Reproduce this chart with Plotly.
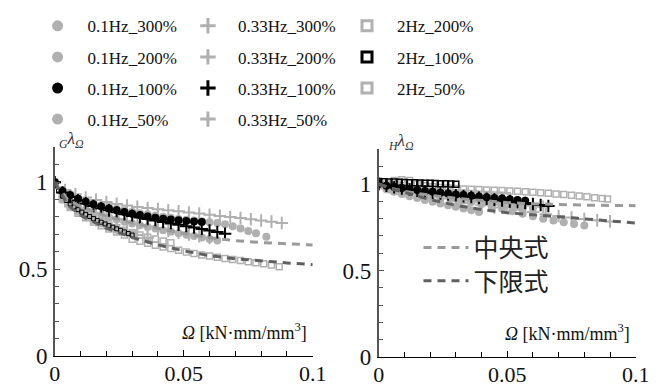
import plotly.graph_objects as go

# ---------------- data ----------------
# Left panel: G lambda_Omega
G_x_01_300 = [0, 0.003, 0.006, 0.009, 0.012, 0.015, 0.018, 0.021, 0.024, 0.027, 0.030, 0.033, 0.036, 0.039,
              0.042, 0.045, 0.048, 0.051, 0.054, 0.057, 0.060, 0.063, 0.066, 0.069, 0.072, 0.075, 0.078, 0.082]
G_y_01_300 = [1.00, 0.955, 0.93, 0.91, 0.894, 0.88, 0.868, 0.857, 0.847, 0.838, 0.83, 0.822, 0.815, 0.808,
              0.801, 0.795, 0.789, 0.784, 0.779, 0.775, 0.77, 0.765, 0.758, 0.747, 0.733, 0.72, 0.706, 0.686]
G_x_01_200 = [0, 0.003, 0.006, 0.009, 0.012, 0.015, 0.018, 0.021, 0.024, 0.027, 0.030, 0.033, 0.036, 0.039,
              0.042, 0.045, 0.048, 0.051, 0.054, 0.057, 0.060, 0.063]
G_y_01_200 = [1.0, 0.92, 0.885, 0.862, 0.843, 0.826, 0.811, 0.797, 0.785, 0.773, 0.762, 0.752, 0.742, 0.733,
              0.724, 0.715, 0.706, 0.698, 0.69, 0.682, 0.674, 0.665]
G_x_01_100 = [0, 0.003, 0.006, 0.009, 0.012, 0.015, 0.018, 0.021, 0.024, 0.027, 0.030, 0.033, 0.036, 0.039,
              0.042, 0.045, 0.048, 0.051, 0.054, 0.057]
G_y_01_100 = [1.0, 0.95, 0.925, 0.905, 0.888, 0.873, 0.86, 0.848, 0.838, 0.828, 0.819, 0.811, 0.803, 0.796,
              0.79, 0.785, 0.781, 0.777, 0.774, 0.771]
G_x_01_50 = [0, 0.003, 0.006, 0.009, 0.012, 0.015, 0.018, 0.021, 0.024, 0.027, 0.030]
G_y_01_50 = [1.0, 0.9, 0.86, 0.83, 0.805, 0.782, 0.762, 0.745, 0.728, 0.713, 0.70]

G_x_033_300 = [0.000, 0.004, 0.008, 0.012, 0.016, 0.020, 0.024, 0.028, 0.032, 0.036, 0.040, 0.044, 0.048,
               0.052, 0.056, 0.060, 0.064, 0.068, 0.072, 0.076, 0.080, 0.084, 0.088]
G_y_033_300 = [1.00, 0.955, 0.93, 0.912, 0.898, 0.886, 0.875, 0.866, 0.858, 0.851, 0.845, 0.839, 0.833,
               0.826, 0.82, 0.813, 0.806, 0.8, 0.794, 0.787, 0.78, 0.773, 0.765]
G_x_033_200 = [0, 0.004, 0.008, 0.012, 0.016, 0.020, 0.024, 0.028, 0.032, 0.036, 0.040, 0.044, 0.048, 0.052,
               0.056, 0.060]
G_y_033_200 = [1.0, 0.905, 0.87, 0.845, 0.822, 0.803, 0.787, 0.772, 0.758, 0.745, 0.733, 0.721, 0.71, 0.699,
               0.689, 0.679]
G_x_033_100 = [0, 0.003, 0.006, 0.009, 0.012, 0.015, 0.018, 0.021, 0.024, 0.027, 0.030, 0.033, 0.036, 0.039,
               0.042, 0.045, 0.048, 0.051, 0.054, 0.057, 0.060, 0.063, 0.066]
G_y_033_100 = [1.0, 0.94, 0.915, 0.895, 0.878, 0.863, 0.85, 0.838, 0.827, 0.816, 0.806, 0.797, 0.788, 0.779,
               0.771, 0.763, 0.755, 0.747, 0.739, 0.731, 0.722, 0.713, 0.703]
G_x_033_50 = [0, 0.004, 0.008, 0.012, 0.016, 0.020, 0.024, 0.028, 0.032, 0.036]
G_y_033_50 = [1.0, 0.89, 0.845, 0.81, 0.782, 0.757, 0.735, 0.715, 0.697, 0.68]

G_x_2_200 = [0, 0.003, 0.006, 0.009, 0.012, 0.015, 0.018, 0.021, 0.024, 0.027, 0.030, 0.033, 0.036, 0.039,
             0.042, 0.045, 0.048, 0.051, 0.054, 0.057, 0.060, 0.063, 0.066, 0.069, 0.072, 0.075, 0.078, 0.081,
             0.084, 0.087]
G_y_2_200 = [1.0, 0.9, 0.855, 0.822, 0.795, 0.771, 0.75, 0.731, 0.713, 0.697, 0.672, 0.66, 0.649, 0.638,
             0.628, 0.618, 0.608, 0.599, 0.59, 0.582, 0.575, 0.568, 0.561, 0.555, 0.549, 0.543, 0.537, 0.531,
             0.524, 0.514]
G_x_2_100 = [0, 0.0015, 0.003, 0.0045, 0.006, 0.0075, 0.009, 0.0105, 0.012, 0.0135, 0.015, 0.0165, 0.018,
             0.0195, 0.021, 0.0225, 0.024, 0.0255, 0.027, 0.0285, 0.030]
G_y_2_100 = [1.0, 0.95, 0.92, 0.895, 0.875, 0.858, 0.842, 0.828, 0.815, 0.803, 0.791, 0.78, 0.77, 0.76, 0.75,
             0.741, 0.732, 0.723, 0.714, 0.705, 0.696]
G_x_2_50 = [0, 0.003, 0.006, 0.009, 0.012, 0.015, 0.018, 0.021, 0.024, 0.027, 0.030, 0.033, 0.036, 0.039,
            0.042, 0.045]
G_y_2_50 = [1.0, 0.92, 0.875, 0.842, 0.815, 0.792, 0.772, 0.754, 0.738, 0.723, 0.709, 0.696, 0.684, 0.673,
            0.662, 0.652]

G_x_fit = [0, 0.005, 0.01, 0.02, 0.03, 0.04, 0.05, 0.06, 0.07, 0.08, 0.09, 0.1]
G_y_mid = [1.0, 0.9, 0.86, 0.805, 0.765, 0.733, 0.705, 0.68, 0.664, 0.653, 0.645, 0.639]
G_y_low = [1.0, 0.87, 0.81, 0.735, 0.682, 0.64, 0.605, 0.578, 0.56, 0.547, 0.536, 0.526]

# Right panel: H lambda_Omega
H_x_01_300 = [0, 0.004, 0.008, 0.012, 0.016, 0.020, 0.024, 0.028, 0.032, 0.036, 0.040, 0.044, 0.048, 0.052,
              0.056, 0.060, 0.064, 0.068, 0.072, 0.076, 0.080]
H_y_01_300 = [1.0, 0.978, 0.963, 0.952, 0.943, 0.935, 0.927, 0.918, 0.908, 0.897, 0.885, 0.872, 0.858, 0.843,
              0.828, 0.814, 0.8, 0.789, 0.779, 0.769, 0.76]
H_x_01_200 = [0, 0.004, 0.008, 0.012, 0.016, 0.020, 0.024, 0.028, 0.032, 0.036, 0.040, 0.044, 0.048, 0.052,
              0.056, 0.060]
H_y_01_200 = [1.0, 0.975, 0.96, 0.948, 0.938, 0.929, 0.92, 0.912, 0.904, 0.897, 0.89, 0.883, 0.877, 0.871,
              0.865, 0.86]
H_x_01_100 = [0, 0.003, 0.006, 0.009, 0.012, 0.015, 0.018, 0.021, 0.024, 0.027, 0.030, 0.033, 0.036, 0.039,
              0.042, 0.045, 0.048, 0.051, 0.054, 0.057]
H_y_01_100 = [1.0, 0.99, 0.983, 0.977, 0.971, 0.965, 0.96, 0.955, 0.95, 0.945, 0.94, 0.936, 0.932, 0.928,
              0.924, 0.92, 0.916, 0.912, 0.908, 0.904]
H_x_01_50 = [0, 0.003, 0.006, 0.009, 0.012, 0.015, 0.018, 0.021, 0.024, 0.027, 0.030, 0.033, 0.036, 0.039]
H_y_01_50 = [0.99, 0.97, 0.955, 0.942, 0.93, 0.919, 0.908, 0.898, 0.888, 0.878, 0.868, 0.858, 0.848, 0.838]

H_x_033_300 = [0, 0.005, 0.01, 0.015, 0.02, 0.025, 0.03, 0.035, 0.04, 0.045, 0.05, 0.055, 0.06, 0.065, 0.07,
               0.075, 0.08, 0.085, 0.09]
H_y_033_300 = [1.0, 0.98, 0.965, 0.952, 0.94, 0.928, 0.917, 0.905, 0.893, 0.88, 0.866, 0.852, 0.838, 0.825,
               0.815, 0.806, 0.798, 0.791, 0.784]
H_x_033_200 = [0, 0.004, 0.008, 0.012, 0.016, 0.020, 0.024, 0.028, 0.032, 0.036, 0.040, 0.044, 0.048, 0.052,
               0.056, 0.060, 0.064]
H_y_033_200 = [1.0, 0.982, 0.97, 0.96, 0.951, 0.943, 0.935, 0.927, 0.92, 0.913, 0.906, 0.899, 0.892, 0.886,
               0.88, 0.874, 0.868]
H_x_033_100 = [0, 0.003, 0.006, 0.009, 0.012, 0.015, 0.018, 0.021, 0.024, 0.027, 0.030, 0.033, 0.036, 0.039,
               0.042, 0.045, 0.048, 0.051, 0.054, 0.057, 0.060, 0.063, 0.066]
H_y_033_100 = [1.0, 0.99, 0.982, 0.975, 0.968, 0.962, 0.956, 0.95, 0.945, 0.94, 0.935, 0.93, 0.925, 0.92,
               0.915, 0.91, 0.905, 0.9, 0.895, 0.89, 0.885, 0.879, 0.873]
H_x_033_50 = [0, 0.005, 0.01, 0.015, 0.02, 0.025, 0.03, 0.035, 0.04, 0.045]
H_y_033_50 = [1.0, 0.975, 0.958, 0.944, 0.93, 0.917, 0.904, 0.891, 0.878, 0.865]

H_x_2_200 = [0, 0.003, 0.006, 0.009, 0.012, 0.015, 0.018, 0.021, 0.024, 0.027, 0.030, 0.033, 0.036, 0.039,
             0.042, 0.045, 0.048, 0.051, 0.054, 0.057, 0.060, 0.063, 0.066, 0.069, 0.072, 0.075, 0.078, 0.081,
             0.084, 0.087, 0.089]
H_y_2_200 = [1.0, 1.0, 1.02, 1.025, 1.02, 1.0, 0.99, 0.984, 0.98, 0.977, 0.974, 0.972, 0.97, 0.968, 0.966,
             0.964, 0.962, 0.96, 0.958, 0.956, 0.953, 0.95, 0.947, 0.943, 0.939, 0.935, 0.931, 0.926, 0.921,
             0.917, 0.913]
H_x_2_100 = [0, 0.002, 0.004, 0.006, 0.008, 0.010, 0.012, 0.014, 0.016, 0.018, 0.020, 0.022, 0.024, 0.026,
             0.028, 0.030]
H_y_2_100 = [1.015, 1.013, 1.012, 1.012, 1.01, 1.009, 1.008, 1.007, 1.006, 1.005, 1.004, 1.003, 1.002, 1.001,
             1.0, 0.999]
H_x_2_50 = [0, 0.0025, 0.005, 0.0075, 0.01, 0.0125, 0.015, 0.0175, 0.02, 0.0225, 0.025, 0.0275, 0.03, 0.0325,
            0.035, 0.0375, 0.04, 0.0425, 0.045, 0.0475, 0.05]
H_y_2_50 = [1.0, 0.99, 0.982, 0.976, 0.971, 0.967, 0.963, 0.96, 0.957, 0.955, 0.953, 0.951, 0.949, 0.947,
            0.945, 0.943, 0.941, 0.939, 0.937, 0.935, 0.933]

H_x_fit = [0, 0.005, 0.01, 0.02, 0.03, 0.04, 0.05, 0.06, 0.07, 0.08, 0.09, 0.1]
H_y_mid = [1.0, 0.975, 0.958, 0.935, 0.917, 0.903, 0.893, 0.886, 0.881, 0.878, 0.876, 0.875]
H_y_low = [1.0, 0.972, 0.952, 0.91, 0.877, 0.853, 0.834, 0.822, 0.812, 0.801, 0.788, 0.775]

x_ticks = [0, 0.05, 0.1]
x_tick_text = ["0", "0.05", "0.1"]
y_ticks = [0, 0.5, 1]
y_tick_text = ["0", "0.5", "1"]

# ---------------- styles ----------------
GRAY = "#b0b0b0"
BLACK = "#000000"
MID_C = "#9a9a9a"
LOW_C = "#606060"
SERIF = "Liberation Serif, Times New Roman, Tinos, DejaVu Serif, serif"

series = [
    # name, Gx, Gy, Hx, Hy, kind, color, legend
    ("0.1Hz_300%", G_x_01_300, G_y_01_300, H_x_01_300, H_y_01_300, "circle", GRAY, "legend"),
    ("0.1Hz_200%", G_x_01_200, G_y_01_200, H_x_01_200, H_y_01_200, "circle", GRAY, "legend"),
    ("0.1Hz_100%", G_x_01_100, G_y_01_100, H_x_01_100, H_y_01_100, "circle", BLACK, "legend"),
    ("0.1Hz_50%", G_x_01_50, G_y_01_50, H_x_01_50, H_y_01_50, "circle", GRAY, "legend"),
    ("0.33Hz_300%", G_x_033_300, G_y_033_300, H_x_033_300, H_y_033_300, "plus", GRAY, "legend2"),
    ("0.33Hz_200%", G_x_033_200, G_y_033_200, H_x_033_200, H_y_033_200, "plus", GRAY, "legend2"),
    ("0.33Hz_100%", G_x_033_100, G_y_033_100, H_x_033_100, H_y_033_100, "plus", BLACK, "legend2"),
    ("0.33Hz_50%", G_x_033_50, G_y_033_50, H_x_033_50, H_y_033_50, "plus", GRAY, "legend2"),
    ("2Hz_200%", G_x_2_200, G_y_2_200, H_x_2_200, H_y_2_200, "square", GRAY, "legend3"),
    ("2Hz_100%", G_x_2_100, G_y_2_100, H_x_2_100, H_y_2_100, "square", BLACK, "legend3"),
    ("2Hz_50%", G_x_2_50, G_y_2_50, H_x_2_50, H_y_2_50, "square", GRAY, "legend3"),
]


def marker_style(kind, color, legend=False, small=False):
    if kind == "circle":
        return dict(symbol="circle", size=11 if legend else 8, color=color, line=dict(width=0))
    if kind == "plus":
        return dict(symbol="cross-thin", size=11 if legend else 9, color=color,
                    line=dict(width=3 if legend else 2, color=color))
    if small:
        return dict(symbol="square-open", size=4, color=color, line=dict(width=1, color=color))
    return dict(symbol="square-open", size=10 if legend else 6, color=color,
                line=dict(width=3 if legend else 1.5, color=color))


fig = go.Figure()

# gray series first, then black ones on top
order = [s for s in series if s[6] == GRAY] + [s for s in series if s[6] == BLACK]
for name, gx, gy, hx, hy, kind, color, lg in order:
    fig.add_trace(go.Scatter(x=gx, y=gy, mode="markers",
                             marker=marker_style(kind, color, small=(name == "2Hz_100%")),
                             showlegend=False, xaxis="x", yaxis="y", hoverinfo="skip"))
    fig.add_trace(go.Scatter(x=hx, y=hy, mode="markers", marker=marker_style(kind, color),
                             showlegend=False, xaxis="x2", yaxis="y2", hoverinfo="skip"))

# fit curves
DASH = "8px,6px"
fig.add_trace(go.Scatter(x=G_x_fit, y=G_y_mid, mode="lines", name="中央式", legend="legend4",
                         line=dict(color=MID_C, width=3, dash=DASH), xaxis="x", yaxis="y"))
fig.add_trace(go.Scatter(x=G_x_fit, y=G_y_low, mode="lines", name="下限式", legend="legend5",
                         line=dict(color=LOW_C, width=3, dash=DASH), xaxis="x", yaxis="y"))
fig.add_trace(go.Scatter(x=H_x_fit, y=H_y_mid, mode="lines", showlegend=False,
                         line=dict(color=MID_C, width=3, dash=DASH), xaxis="x2", yaxis="y2"))
fig.add_trace(go.Scatter(x=H_x_fit, y=H_y_low, mode="lines", showlegend=False,
                         line=dict(color=LOW_C, width=3, dash=DASH), xaxis="x2", yaxis="y2"))

# legend-only entries
for name, gx, gy, hx, hy, kind, color, lg in series:
    fig.add_trace(go.Scatter(x=[None], y=[None], mode="markers", name=name, legend=lg,
                             legendgroup=name, marker=marker_style(kind, color, legend=True),
                             xaxis="x", yaxis="y"))


def xaxis(domain, anchor):
    return dict(domain=domain, anchor=anchor, range=[0, 0.1], tickvals=x_ticks, ticktext=x_tick_text,
                ticks="inside", ticklen=6, tickwidth=1.2, tickcolor="#000", showline=True,
                linecolor="#000", linewidth=1.2, showgrid=False, zeroline=False,
                minor=dict(dtick=0.01, tick0=0, ticks="inside", ticklen=5, tickcolor="#000", tickwidth=1),
                tickfont=dict(family=SERIF, size=22, color="#111"), ticklabelstandoff=-3)


def yaxis(domain, anchor):
    return dict(domain=domain, anchor=anchor, range=[0, 1.2], tickvals=y_ticks, ticktext=y_tick_text,
                ticks="inside", ticklen=6, tickwidth=1.2, tickcolor="#555", showline=True,
                linecolor="#555", linewidth=1.5, showgrid=False, zeroline=False,
                minor=dict(dtick=0.1, tick0=0, ticks="inside", ticklen=5, tickcolor="#555", tickwidth=1),
                tickfont=dict(family=SERIF, size=23, color="#111"), ticklabelstandoff=1)


leg_common = dict(orientation="v", xanchor="left", yanchor="top", bgcolor="rgba(0,0,0,0)",
                  font=dict(family=SERIF, size=17, color="#111"), tracegroupgap=6,
                  traceorder="grouped", itemsizing="trace", itemwidth=50)
leg_cjk = dict(orientation="v", xanchor="left", yanchor="top", bgcolor="rgba(0,0,0,0)",
               font=dict(family="Noto Sans CJK JP", size=25, color="#222"), itemwidth=45)

fig.update_layout(
    width=666, height=387,
    margin=dict(l=0, r=0, t=0, b=0),
    paper_bgcolor="white", plot_bgcolor="white",
    xaxis=xaxis([42 / 666, 308 / 666], "y"),
    yaxis=yaxis([28 / 387, 253.6 / 387], "x"),
    xaxis2=xaxis([376 / 666, 641 / 666], "y2"),
    yaxis2=yaxis([27 / 387, 251.4 / 387], "x2"),
    legend=dict(leg_common, x=14 / 666, y=1 + 17 / 387),
    legend2=dict(leg_common, x=169 / 666, y=1 + 17 / 387),
    legend3=dict(leg_common, x=333 / 666, y=1 + 17 / 387),
    legend4=dict(leg_cjk, x=417 / 666, y=1 - 217 / 387),
    legend5=dict(leg_cjk, x=417 / 666, y=1 - 253 / 387),
    showlegend=True,
)

for xr, yr, sub, xx in (("x domain", "y domain", "G", 0.01), ("x2 domain", "y2 domain", "H", 0.03)):
    fig.add_annotation(xref=xr, yref=yr, x=0.985, y=0.12, xanchor="right", yanchor="middle",
                       text="<i>Ω</i> [kN·mm/mm<sup>3</sup>]", showarrow=False,
                       font=dict(family=SERIF, size=18, color="#111"))
    fig.add_annotation(xref=xr, yref=yr, x=xx, y=1.035, xanchor="left", yanchor="middle",
                       text=f"<i><sub>{sub}</sub>λ<sub>Ω</sub></i>", showarrow=False,
                       font=dict(family=SERIF, size=17, color="#333"))

fig.write_html("out.html")
